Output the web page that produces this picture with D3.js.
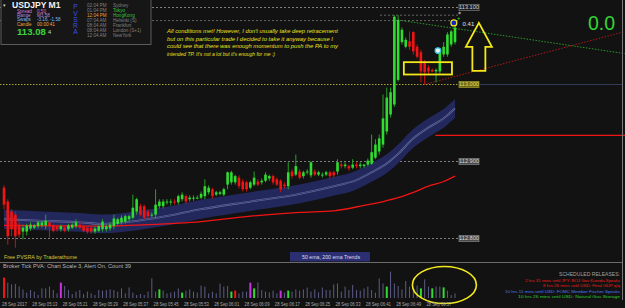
<!DOCTYPE html>
<html>
<head>
<meta charset="utf-8">
<script src="https://cdn.jsdelivr.net/npm/d3@7"></script>
<style>
  html, body { margin: 0; padding: 0; background: #121212; }
  svg { display: block; font-family: "Liberation Sans", Arial, sans-serif; }
</style>
</head>
<body>
<script>
(function (d3) {
  "use strict";

  /***** Données *****/
  var opens = [112.866,112.848,112.835,112.831,112.818,112.809,112.809,112.813,112.814,112.816,
    112.817,112.817,112.821,112.817,112.816,112.812,112.814,112.812,112.814,112.816,
    112.818,112.816,112.814,112.814,112.809,112.810,112.812,112.812,112.813,112.816,
    112.819,112.821,112.822,112.825,112.827,112.835,112.842,112.842,112.835,112.830,
    112.831,112.842,112.842,112.847,112.847,112.848,112.847,112.851,112.855,112.851,
    112.852,112.852,112.853,112.855,112.860,112.864,112.857,112.858,112.857,112.870,
    112.873,112.873,112.879,112.874,112.873,112.866,112.870,112.874,112.873,112.875,
    112.878,112.881,112.877,112.875,112.870,112.868,112.887,112.883,112.887,112.881,
    112.886,112.882,112.887,112.883,112.882,112.883,112.886,112.886,112.887,112.896,
    112.894,112.894,112.892,112.896,112.894,112.894,112.896,112.897,112.905,112.913,
    112.922,112.939,112.961,112.974,113.006,113.055,113.049,113.056,113.068,113.049,
    113.042,113.029,113.022,113.019,113.017,113.017,113.039,113.039,113.052,113.055];
  var highs = [112.869,112.851,112.838,112.835,112.822,112.818,112.819,112.821,112.819,112.823,
    112.823,112.831,112.825,112.819,112.818,112.818,112.817,112.819,112.821,112.825,
    112.822,112.818,112.817,112.816,112.816,112.818,112.825,112.818,112.821,112.831,
    112.827,112.830,112.831,112.831,112.857,112.853,112.845,112.844,112.838,112.834,
    112.864,112.851,112.851,112.851,112.851,112.851,112.857,112.860,112.857,112.856,
    112.856,112.856,112.861,112.877,112.869,112.866,112.862,112.862,112.866,112.887,
    112.888,112.883,112.882,112.877,112.875,112.875,112.887,112.877,112.878,112.886,
    112.883,112.883,112.879,112.877,112.873,112.899,112.890,112.909,112.890,112.888,
    112.890,112.900,112.890,112.888,112.886,112.888,112.888,112.888,112.903,112.899,
    112.899,112.896,112.903,112.899,112.899,112.897,112.904,112.935,112.929,112.935,
    112.987,112.996,112.996,113.090,113.090,113.074,113.061,113.069,113.069,113.052,
    113.045,113.032,113.025,113.021,113.021,113.044,113.055,113.068,113.071,113.077];
  var lows = [112.838,112.792,112.803,112.788,112.801,112.799,112.804,112.810,112.812,112.813,
    112.814,112.812,112.801,112.808,112.809,112.809,112.808,112.809,112.812,112.813,
    112.812,112.808,112.806,112.806,112.806,112.808,112.809,112.809,112.810,112.812,
    112.817,112.818,112.819,112.822,112.825,112.831,112.829,112.825,112.826,112.827,
    112.827,112.839,112.839,112.844,112.843,112.844,112.844,112.848,112.845,112.848,
    112.849,112.851,112.851,112.851,112.857,112.852,112.855,112.856,112.855,112.864,
    112.870,112.870,112.865,112.861,112.861,112.864,112.868,112.868,112.870,112.873,
    112.875,112.870,112.868,112.860,112.865,112.864,112.878,112.881,112.877,112.878,
    112.883,112.879,112.881,112.881,112.879,112.881,112.878,112.879,112.883,112.891,
    112.891,112.888,112.890,112.891,112.891,112.892,112.894,112.896,112.903,112.909,
    112.918,112.935,112.957,112.971,113.004,113.052,113.047,113.045,113.039,113.034,
    113.003,113.000,113.014,113.016,113.003,113.014,113.036,113.036,113.049,113.052];
  var closes = [112.844,112.803,112.812,112.803,112.805,112.814,112.817,112.818,112.817,112.821,
    112.821,112.823,112.816,112.810,112.812,112.816,112.810,112.817,112.818,112.821,
    112.814,112.810,112.809,112.809,112.813,112.816,112.822,112.816,112.818,112.826,
    112.825,112.827,112.829,112.829,112.840,112.851,112.831,112.827,112.829,112.831,
    112.844,112.848,112.848,112.848,112.848,112.847,112.855,112.857,112.848,112.853,
    112.853,112.853,112.858,112.868,112.866,112.855,112.860,112.860,112.864,112.886,
    112.886,112.881,112.868,112.864,112.864,112.873,112.879,112.870,112.875,112.883,
    112.881,112.873,112.870,112.864,112.868,112.886,112.881,112.894,112.879,112.886,
    112.887,112.899,112.883,112.886,112.883,112.886,112.881,112.882,112.899,112.894,
    112.896,112.891,112.896,112.894,112.896,112.896,112.901,112.912,112.922,112.930,
    112.956,112.983,112.990,113.088,113.084,113.071,113.058,113.049,113.043,113.036,
    113.017,113.016,113.017,113.017,113.019,113.042,113.049,113.065,113.069,113.074];

  // ticks par bougie (fenêtre Broker Tick PVA)
  var volumes = [102,77,68,70,57,43,27,40,32,15, 48,48,57,40,23,77,60,40,20,32,
    40,20,32,23,15,40,37,40,43,40, 32,48,23,53,27,15,20,15,32,98,
    32,43,37,23,27,32,48,27,37,43, 32,27,62,57,23,32,23,72,57,60,
    32,37,23,32,32,77,48,78,40,32, 28,37,23,37,27,37,32,43,37,43,
    52,32,43,28,52,40,40,68,73,32, 57,40,65,40,37,48,57,40,27,98,
    73,57,132,73,60,43,85,57,37,62, 48,93,57,48,57,57,53,37,15,23];
  // r = climax baissier, g = climax haussier, m = volume en hausse
  var volumeTypes = ("r..............m.........................g.....g" +
    "............gr...mg......m.g.........................g........g..g" +
    "..g............g....").split("");

  var ema50Bars = [0,10,20,26,35,45,52,65,78,88,92,97,100,104,108,112,116,119];
  var ema50 = [112.825,112.823,112.821,112.819,112.823,112.831,112.838,112.848,112.858,
    112.869,112.874,112.886,112.894,112.910,112.930,112.944,112.956,112.969];
  var ema200Bars = [0,25,38,52,65,78,87,95,100,104,108,112,116,119];
  var ema200 = [112.817,112.816,112.818,112.822,112.829,112.834,112.836,112.843,112.848,
    112.853,112.860,112.868,112.874,112.881];

  var priceLevels = [113.1, 113.0, 112.9, 112.8];
  var priceLabels = ["113.100", "113.000", "112.900", "112.800"];

  var dateLabels = ["28 Sep 2017", "28 Sep 05:13", "28 Sep 05:21", "28 Sep 05:29", "28 Sep 05:37",
    "28 Sep 05:45", "28 Sep 05:53", "28 Sep 06:01", "28 Sep 06:09", "28 Sep 06:17",
    "28 Sep 06:25", "28 Sep 06:33", "28 Sep 06:41", "28 Sep 06:49", "28 Sep 06:57"];

  var clockTimes = ["02:04 PM", "01:04 PM", "12:04 PM", "07:04 AM", "08:04 AM", "08:04 AM", "12:04 AM"];
  var clockCities = ["Sydney", "Tokyo", "HongKong", "Helsinki  (S)", "Frankfurt", "London  (S+1)", "NewYork"];
  var infoLabels = ["Spread", "Range", "Swaps", "Candle"];
  var infoValues = ["0.50", "M3.58", "-3.16, -1.58", "00:00:41"];

  var noteLines = ["All conditions met! However, I don't usually take deep retracement",
    "but on this particular trade I decided to take it anyway because I",
    "could see that there was enough momentum to push the PA to my",
    "intended TP. It's not a lot but it's enough for me :)"];

  var releases = ["2 hrs 31 mins until JPY: BOJ Gov Kuroda Speaks",
    "8 hrs 26 mins until USD: Final GDP q/q",
    "10 hrs 11 mins until USD: FOMC Member Fischer Speaks",
    "10 hrs 26 mins until USD: Natural Gas Storage"];

  /***** Configuration *****/
  var width = 625, height = 308;
  var green = "#2fdc2f", red = "#f01414";

  var xScale = d3.scaleLinear().domain([0, 119]).range([4, 455]);
  var yScale = d3.scaleLinear().domain([112.8, 113.1]).range([238.5, 7.5]);
  var volScale = d3.scaleLinear().domain([0, 140]).range([298, 270]);

  var svg = d3.select("body").append("svg")
      .attr("width", width)
      .attr("height", height);

  svg.append("rect").attr("width", width).attr("height", height).attr("fill", "#121212");

  var main = svg.append("g");
  main.append("clipPath").attr("id", "clipMain")
    .append("rect").attr("x", 0).attr("y", 0).attr("width", 625).attr("height", 262);
  var plot = main.append("g").attr("clip-path", "url(#clipMain)");

  /***** Niveaux de prix *****/
  plot.selectAll("line.level").data(priceLevels).enter().append("line")
      .attr("x1", 0).attr("x2", 459)
      .attr("y1", function (d) { return yScale(d); })
      .attr("y2", function (d) { return yScale(d); })
      .attr("stroke", function (d) { return d === 113.0 ? "#b9b42e" : "#8a8a8a"; })
      .attr("stroke-width", 0.9)
      .attr("stroke-dasharray", function (d) { return d === 113.0 ? "1.5,1.5" : "2,2"; });

  // plus haut du jour et marqueur
  [[380, 113.090], [0, 113.083]].forEach(function (m) {
    plot.append("line")
      .attr("x1", m[0]).attr("x2", 459)
      .attr("y1", yScale(m[1])).attr("y2", yScale(m[1]))
      .attr("stroke", "#7a7a7a").attr("stroke-width", 0.8).attr("stroke-dasharray", "2,2");
  });

  plot.append("line")
      .attr("x1", 480).attr("x2", 622)
      .attr("y1", yScale(113.0)).attr("y2", yScale(113.0))
      .attr("stroke", "#2e3d58").attr("stroke-width", 1);

  plot.append("line")
      .attr("x1", xScale(113.8)).attr("x2", 625)
      .attr("y1", yScale(112.934)).attr("y2", yScale(112.934))
      .attr("stroke", red).attr("stroke-width", 1.2);

  /***** Lignes de tendance *****/
  var trendLine = d3.line()
      .x(function (d) { return xScale(d[0]); })
      .y(function (d) { return yScale(d[1]); });
  plot.append("path").datum([[105, 113.083], [164, 113.040]])
      .attr("d", trendLine).attr("fill", "none")
      .attr("stroke", "#2a9a2a").attr("stroke-width", 1).attr("stroke-dasharray", "1.5,1.5");
  plot.append("path").datum([[111, 113.000], [164, 113.069]])
      .attr("d", trendLine).attr("fill", "none")
      .attr("stroke", "#b01818").attr("stroke-width", 1).attr("stroke-dasharray", "1.5,1.5");

  /***** Bande EMA 50 et EMA 200 *****/
  var bandHalf = 0.0122;
  var emaPts = ema50Bars.map(function (b, i) { return [b, ema50[i]]; });
  var band = d3.area()
      .curve(d3.curveMonotoneX)
      .x(function (d) { return xScale(d[0]); })
      .y0(function (d) { return yScale(d[1] - bandHalf); })
      .y1(function (d) { return yScale(d[1] + bandHalf); });
  var emaLine = d3.line()
      .curve(d3.curveMonotoneX)
      .x(function (d) { return xScale(d[0]); })
      .y(function (d) { return yScale(d[1]); });

  plot.append("path").datum(emaPts).attr("d", band)
      .attr("fill", "#23285c");
  plot.append("path").datum(emaPts).attr("d", emaLine)
      .attr("fill", "none").attr("stroke", "#6d73a6").attr("stroke-width", 1.8);
  plot.append("path").datum(emaPts).attr("d", emaLine)
      .attr("fill", "none").attr("stroke", "#23285c").attr("stroke-width", 0.7);

  plot.append("path")
      .datum(ema200Bars.map(function (b, i) { return [b, ema200[i]]; }))
      .attr("d", emaLine)
      .attr("fill", "none").attr("stroke", red).attr("stroke-width", 1.3);

  /***** Bougies *****/
  var candles = opens.map(function (o, i) {
    return { i: i, o: o, h: highs[i], l: lows[i], c: closes[i] };
  });
  var cg = plot.selectAll("g.candle").data(candles).enter().append("g");
  cg.append("line")
      .attr("x1", function (d) { return xScale(d.i); })
      .attr("x2", function (d) { return xScale(d.i); })
      .attr("y1", function (d) { return yScale(d.h); })
      .attr("y2", function (d) { return yScale(d.l); })
      .attr("stroke", function (d) { return d.c >= d.o ? "#27a027" : "#c81212"; })
      .attr("stroke-width", 1);
  cg.append("rect")
      .attr("x", function (d) { return xScale(d.i) - 1.3; })
      .attr("width", 2.6)
      .attr("y", function (d) { return yScale(Math.max(d.o, d.c)); })
      .attr("height", function (d) { return Math.max(1, Math.abs(yScale(d.o) - yScale(d.c))); })
      .attr("fill", function (d) { return d.c >= d.o ? green : red; });

  /***** Étiquettes des niveaux *****/
  var lab = main.selectAll("g.plabel").data(priceLevels).enter().append("g")
      .attr("transform", function (d) { return "translate(459," + (yScale(d) - 3.2) + ")"; });
  lab.append("rect")
      .attr("width", 20).attr("height", 6.4)
      .attr("fill", function (d) { return d === 113.0 ? "#6e6a14" : (d === 113.1 ? "#1c1c1c" : "#4a4a4a"); })
      .attr("stroke", function (d) { return d === 113.0 ? "#a8a232" : "#8c8c8c"; })
      .attr("stroke-width", 0.6);
  lab.append("text")
      .attr("x", 10).attr("y", 5.1)
      .attr("text-anchor", "middle")
      .attr("font-size", 5.6)
      .attr("fill", function (d) { return d === 113.0 ? "#e2dc60" : "#d8d8d8"; })
      .text(function (d, i) { return priceLabels[i]; });

  /***** Annotations *****/
  var note = main.append("g").attr("font-style", "italic").attr("fill", "#e8e21e").attr("font-size", 6.2);
  var noteWidths = [171, 166, 171, 108];
  noteLines.forEach(function (t, i) {
    note.append("text")
      .attr("x", 167).attr("y", 33 + i * 7.6)
      .attr("textLength", noteWidths[i]).attr("lengthAdjust", "spacingAndGlyphs")
      .text(t);
  });

  main.append("rect")
      .attr("x", xScale(105.5)).attr("y", yScale(113.029))
      .attr("width", xScale(118.2) - xScale(105.5))
      .attr("height", yScale(113.013) - yScale(113.029))
      .attr("fill", "none").attr("stroke", "#f2e81a").attr("stroke-width", 1.8);

  var tipX = xScale(125.3), tipY = yScale(113.080);
  main.append("path")
      .attr("d", "M" + tipX + "," + tipY + " l13,24 h-6.5 v24 h-13 v-24 h-6.5 z")
      .attr("fill", "none").attr("stroke", "#f2e81a").attr("stroke-width", 1.8)
      .attr("stroke-linejoin", "miter");

  main.append("circle")
      .attr("cx", xScale(114.5)).attr("cy", yScale(113.044)).attr("r", 2.8)
      .attr("fill", "#f0f0f0").attr("stroke", "#30c8e8").attr("stroke-width", 1.3);
  main.append("circle")
      .attr("cx", xScale(118.7)).attr("cy", yScale(113.080)).attr("r", 3)
      .attr("fill", "#1424c8").attr("stroke", "#f2e81a").attr("stroke-width", 1.2);
  main.append("text")
      .attr("x", xScale(121)).attr("y", yScale(113.076))
      .attr("font-size", 6).attr("fill", "#e0e0e0").text("0.41");
  main.append("text")
      .attr("x", xScale(119.6)).attr("y", yScale(113.084))
      .attr("font-size", 5).attr("font-weight", "bold").attr("fill", green).text("+");
  main.append("text")
      .attr("x", xScale(119.8)).attr("y", yScale(113.092))
      .attr("font-size", 3.5).attr("fill", "#9a9a9a").text("\u25C6");

  main.append("text")
      .attr("x", 588).attr("y", 29.5)
      .attr("font-size", 19.5).attr("fill", "#33d633").text("0.0");

  /***** Panneau d'information *****/
  var panel = main.append("g");
  panel.append("rect")
      .attr("x", 1).attr("y", -1).attr("width", 150).attr("height", 45.5)
      .attr("fill", "#161616").attr("stroke", "#6e6e6e").attr("stroke-width", 0.8);
  panel.append("text").attr("x", 3).attr("y", 7).attr("font-size", 5)
      .attr("fill", "#cfcfcf").text("\u25BE");
  panel.append("text").attr("x", 12).attr("y", 8.3)
      .attr("font-size", 8.6).attr("font-weight", "bold").attr("fill", "#f2f2f2")
      .text("USDJPY  M1");
  var infoColors = ["#d678d6", "#b48ee6", "#7fb8f0", "#f0a63a"];
  infoLabels.forEach(function (t, i) {
    panel.append("text").attr("x", 17).attr("y", 12.8 + i * 4.3)
      .attr("font-size", 4.6).attr("fill", infoColors[i]).text(t);
    panel.append("text").attr("x", 37).attr("y", 12.8 + i * 4.3)
      .attr("font-size", 4.6).attr("fill", infoColors[i]).text(infoValues[i]);
  });
  panel.append("text").attr("x", 17).attr("y", 34.5)
      .attr("font-size", 9.6).attr("font-weight", "bold").attr("fill", "#3bd63b").text("113.08");
  panel.append("text").attr("x", 48).attr("y", 34)
      .attr("font-size", 5.6).attr("fill", "#b8e0b8").text("4");
  "PVSRA".split("").forEach(function (ch, i) {
    panel.append("text").attr("x", 75.5).attr("y", 9.2 + i * 6.3)
      .attr("text-anchor", "middle").attr("font-size", 6.6)
      .attr("fill", "#3c50e6").text(ch);
  });
  clockTimes.forEach(function (t, i) {
    panel.append("text").attr("x", 87).attr("y", 7.4 + i * 4.9)
      .attr("font-size", 4.6).attr("fill", i === 2 ? "#e8a032" : "#808080").text(t);
    panel.append("text").attr("x", 113).attr("y", 7.4 + i * 4.9)
      .attr("font-size", 4.6).attr("fill", (i === 1 || i === 2) ? "#38c038" : "#808080")
      .text(clockCities[i]);
  });

  /***** Bas de la fenêtre principale *****/
  main.append("text").attr("x", 4).attr("y", 258.6)
      .attr("font-size", 6).attr("fill", "#d8c236")
      .attr("textLength", 73).attr("lengthAdjust", "spacingAndGlyphs")
      .text("Free PVSRA by Traderathome");
  main.append("rect").attr("x", 290).attr("y", 252).attr("width", 80).attr("height", 9.5)
      .attr("fill", "#2b2f72");
  main.append("text").attr("x", 302).attr("y", 258.8)
      .attr("font-size", 5.6).attr("fill", "#dcdcf0")
      .attr("textLength", 58).attr("lengthAdjust", "spacingAndGlyphs")
      .text("50 ema, 200 ema Trends");

  /***** Sous-fenêtre volumes *****/
  svg.append("line").attr("x1", 0).attr("x2", 622).attr("y1", 262.5).attr("y2", 262.5)
      .attr("stroke", "#6a6a6a").attr("stroke-width", 1);
  svg.append("line").attr("x1", 622.5).attr("x2", 622.5).attr("y1", 0).attr("y2", 300)
      .attr("stroke", "#7a7a7a").attr("stroke-width", 1);

  svg.append("text").attr("x", 3).attr("y", 268)
      .attr("font-size", 5.5).attr("fill", "#b4b4b4")
      .attr("textLength", 128).attr("lengthAdjust", "spacingAndGlyphs")
      .text("Broker Tick PVA:   Chart Scale  3,  Alert On,  Count  39");

  var volColor = { ".": "#5c5c86", r: "#f01414", g: "#2fdc2f", m: "#c832e0" };
  svg.selectAll("rect.vol").data(volumes).enter().append("rect")
      .attr("x", function (d, i) { return xScale(i) - (volumeTypes[i] === "." ? 0.5 : 1); })
      .attr("width", function (d, i) { return volumeTypes[i] === "." ? 1 : 2; })
      .attr("y", function (d) { return volScale(d); })
      .attr("height", function (d) { return volScale(0) - volScale(d); })
      .attr("fill", function (d, i) { return volColor[volumeTypes[i]]; });

  svg.append("ellipse")
      .attr("cx", xScale(116.2)).attr("cy", 285).attr("rx", 32).attr("ry", 18.5)
      .attr("fill", "none").attr("stroke", "#f2e81a").attr("stroke-width", 1.6);

  var rel = svg.append("g").attr("font-size", 4.3);
  rel.append("text").attr("x", 620 - 61).attr("y", 276.3).attr("fill", "#a0a0a0")
      .attr("font-size", 5.2)
      .attr("textLength", 61).attr("lengthAdjust", "spacingAndGlyphs")
      .text("SCHEDULED RELEASES:");
  var relColors = ["#f01a1a", "#f01a1a", "#4a7cff", "#2fcf2f"];
  var relWidths = [95, 77, 115, 102];
  releases.forEach(function (t, i) {
    rel.append("text").attr("x", 620 - relWidths[i]).attr("y", 282 + i * 5.3)
      .attr("fill", relColors[i])
      .attr("textLength", relWidths[i]).attr("lengthAdjust", "spacingAndGlyphs")
      .text(t);
  });

  /***** Axe du temps *****/
  svg.selectAll("text.date").data(dateLabels).enter().append("text")
      .attr("x", function (d, i) { return xScale(i * 8) - 2; })
      .attr("y", 305.5)
      .attr("font-size", 5.2).attr("fill", "#a8a8a8")
      .attr("textLength", 25).attr("lengthAdjust", "spacingAndGlyphs")
      .text(function (d) { return d; });

})(d3);
</script>
</body>
</html>
